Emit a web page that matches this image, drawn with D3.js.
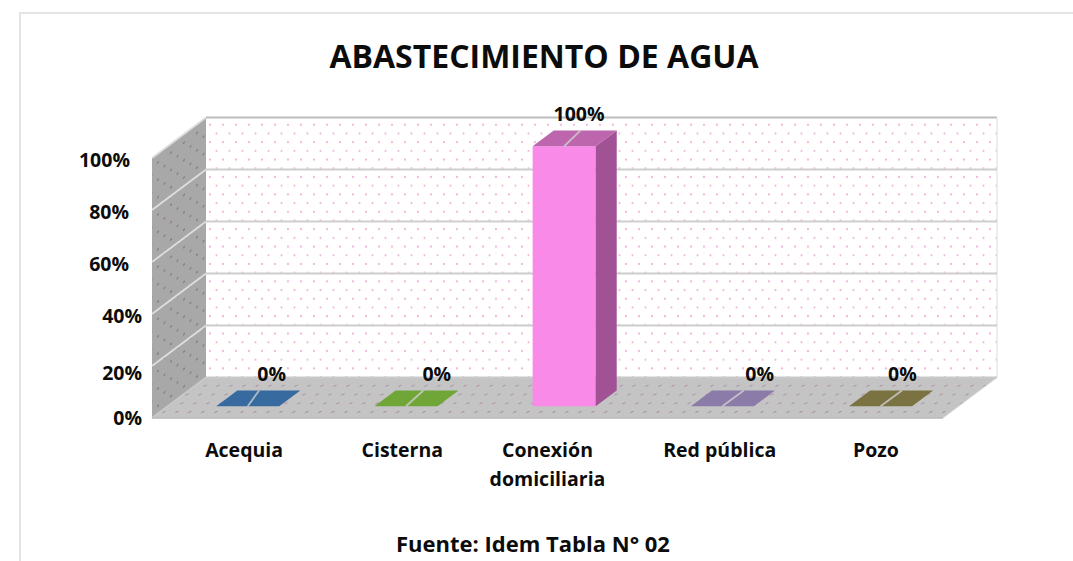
<!DOCTYPE html>
<html><head><meta charset="utf-8">
<script src="https://cdn.jsdelivr.net/npm/d3@7"></script>
<style>html,body{margin:0;padding:0;background:#fff}svg{display:block}text{font-family:"Open Sans",Lato,sans-serif;font-weight:700;fill:#0c0c0c}</style>
</head><body><div id="c"></div>
<script>
const categories=["Acequia","Cisterna","Conexión domiciliaria","Red pública","Pozo"];
const values=[0,0,100,0,0];
const colors=["#376a9f","#70a637","#f98ae8","#8a7ba8","#7b7242"];
const topColors=["#376a9f","#70a637","#bd66ae","#8a7ba8","#7b7242"];
const sideColors=["#2a5078","#557d2a","#a05294","#685d80","#5c5632"];
const ticks=[0,20,40,60,80,100];
const W=1073,H=561;
const svg=d3.select("#c").append("svg").attr("width",W).attr("height",H);
const defs=svg.append("defs");
function pat(id,bg,dot,dot2,skew){
  const p=defs.append("pattern").attr("id",id).attr("patternUnits","userSpaceOnUse").attr("width",13).attr("height",17.4);
  if(skew)p.attr("patternTransform",skew);
  p.append("rect").attr("width",13).attr("height",17.4).attr("fill",bg);
  [[2,3,dot],[8.5,11.7,dot2]].forEach(d=>p.append("circle").attr("cx",d[0]).attr("cy",d[1]).attr("r",1.05).attr("fill",d[2]));
}
pat("pBack","#ffffff","#f2a8d4","#f0b4dc");
pat("pSide","#a8a8a8","#857080","#8a7585","skewY(-37)");
pat("pFloor","#c4c4c4","#b08ca8","#a88aa4","skewX(-53)");
const x=d3.scaleBand().domain(categories).range([152,943]);
const y=d3.scaleLinear().domain([0,100]).range([418,158]);
const dx=54,dy=-40.5;
const barDepth0=.29,barDepth1=.68;
const barW=63,shift=x.bandwidth()/2;
const pt=(px,py,d)=>[px+dx*d,py+dy*d];
const poly=(pts)=>pts.map(p=>p.join(",")).join(" ");
const x0=x.range()[0],x1=x.range()[1];
// hand-placed label offsets seen in the reference
const tickRight=[142,142,142,129,129,130], tickDy=[7,14,9,9,9,9];
const catDx=[13,13,0,14,12];
const valueDx=[39.5,46.5,30.5,53,37.5];
const leaderDx=[27,33,32,37,37];
svg.append("path").attr("d","M20,561V13H1073").attr("fill","none").attr("stroke","#e4e4e4").attr("stroke-width",2);
svg.append("polygon").attr("points",poly([pt(x0,y(100),1),pt(x1,y(100),1),pt(x1,y(0),1),pt(x0,y(0),1)])).attr("fill","url(#pBack)");
svg.append("polygon").attr("points",poly([pt(x0,y(100),0),pt(x0,y(100),1),pt(x0,y(0),1),pt(x0,y(0),0)])).attr("fill","url(#pSide)");
svg.append("polygon").attr("points",poly([pt(x0,y(0),0),pt(x0,y(0),1),pt(x1,y(0),1),pt(x1,y(0),0)])).attr("fill","url(#pFloor)");
ticks.forEach(t=>{
  const a=pt(x0,y(t),0),b=pt(x0,y(t),1),c=pt(x1,y(t),1);
  svg.append("line").attr("x1",a[0]).attr("y1",a[1]).attr("x2",b[0]).attr("y2",b[1]).attr("stroke",t===0?"#c9c9c9":"#dedede").attr("stroke-width",1.8);
  svg.append("line").attr("x1",b[0]).attr("y1",b[1]).attr("x2",c[0]).attr("y2",c[1]).attr("stroke",t===100?"#bcbcbc":(t===0?"#c9c9c9":"#d0cdd0")).attr("stroke-width",t===100?2:1.8);
});
svg.append("line").attr("x1",pt(x1,y(100),1)[0]).attr("x2",pt(x1,y(100),1)[0]).attr("y1",pt(x1,y(100),1)[1]).attr("y2",pt(x1,y(0),1)[1]).attr("stroke","#dcdcdc");
svg.append("line").attr("x1",pt(x1,y(0),0)[0]).attr("y1",pt(x1,y(0),0)[1]).attr("x2",pt(x1,y(0),1)[0]).attr("y2",pt(x1,y(0),1)[1]).attr("stroke","#d8d8d8");
svg.append("line").attr("x1",x0).attr("x2",x1).attr("y1",y(0)).attr("y2",y(0)).attr("stroke","#b9b9b9").attr("stroke-width",1.5);
categories.forEach((c,i)=>{
  const l=x(c)+shift-barW/2+1, r=l+barW, top=y(values[i]), bot=y(0);
  const f=(px,py)=>pt(px,py,barDepth0), b=(px,py)=>pt(px,py,barDepth1);
  const g=svg.append("g");
  if(values[i]>0){
    g.append("polygon").attr("points",poly([f(l,top),f(r,top),f(r,bot),f(l,bot)])).attr("fill",colors[i]);
    g.append("polygon").attr("points",poly([f(r,top),b(r,top),b(r,bot),f(r,bot)])).attr("fill",sideColors[i]);
  }
  g.append("polygon").attr("points",poly([f(l,top),b(l,top),b(r,top),f(r,top)])).attr("fill",topColors[i]);
  const m=(l+r)/2, s=f(m,top);
  g.append("line").attr("x1",s[0]).attr("y1",s[1]).attr("x2",m+leaderDx[i]).attr("y2",b(m,top)[1]).attr("stroke","#d0d0d0").attr("stroke-opacity",.8).attr("stroke-width",1.8);
  svg.append("text").attr("x",m+valueDx[i]).attr("y",top-37).attr("text-anchor","middle").attr("font-size",19.5).text(values[i]+"%");
});
ticks.forEach((t,i)=>svg.append("text").attr("x",tickRight[i]).attr("y",y(t)+tickDy[i]).attr("text-anchor","end").attr("font-size",19.5).text(t+"%"));
const lines={"Conexión domiciliaria":["Conexión","domiciliaria"]};
categories.forEach((c,k)=>{
  const t=svg.append("text").attr("text-anchor","middle").attr("font-size",19.5);
  (lines[c]||[c]).forEach((s,i)=>t.append("tspan").attr("x",x(c)+shift+catDx[k]).attr("y",457+i*29).text(s));
});
svg.append("text").attr("x",544).attr("y",68).attr("text-anchor","middle").attr("font-size",32).text("ABASTECIMIENTO DE AGUA");
svg.append("text").attr("x",533).attr("y",552).attr("text-anchor","middle").attr("font-size",22).text("Fuente: Idem Tabla N° 02");
</script></body></html>
